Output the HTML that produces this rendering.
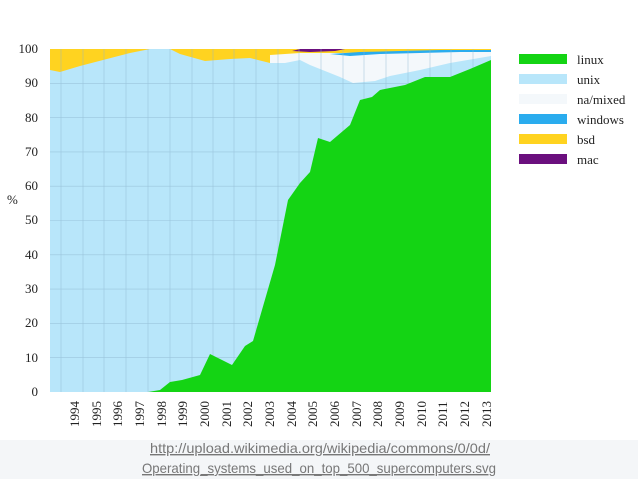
<!DOCTYPE html>
<html><head><meta charset="utf-8"><style>
body{margin:0;width:638px;height:479px;background:#fff;overflow:hidden}
</style></head><body>
<svg width="638" height="479" xmlns="http://www.w3.org/2000/svg" style="position:absolute;left:0;top:0">
<rect x="0" y="440" width="638" height="39" fill="#f4f6f8"/>
<!-- yellow bsd background to top -->
<rect x="50" y="49" width="441" height="343" fill="#ffd320"/>
<!-- na/mixed region -->
<polygon fill="#f4f8fb" points="270,55 300,53 340,53 380,52 420,51 460,50 491,50 491,392 270,392"/>
<!-- windows -->
<polygon fill="#2aacee" points="330,54 360,52 400,51 440,50 491,50 491,52 460,52 420,53 380,54 350,56"/>
<!-- mac -->
<polygon fill="#6b0f7e" points="292,51 300,49 345,49 335,51 310,52"/>
<!-- unix (top of unix) -->
<polygon fill="#b8e6fa" points="50,70 60,72 80,66 130,53 150,49 170,49 180,54 205,61 230,59 250,58 270,63 285,63 300,60 310,65 340,77 353,83 375,81 390,76 420,70 450,63 491,56 491,392 50,392"/>
<!-- grid -->
<g stroke="#8fb8d0" stroke-width="0.6" opacity="0.7">
<line x1="50" x2="491" y1="83.3" y2="83.3"/><line x1="50" x2="491" y1="117.6" y2="117.6"/><line x1="50" x2="491" y1="151.9" y2="151.9"/><line x1="50" x2="491" y1="186.2" y2="186.2"/><line x1="50" x2="491" y1="220.5" y2="220.5"/><line x1="50" x2="491" y1="254.8" y2="254.8"/><line x1="50" x2="491" y1="289.1" y2="289.1"/><line x1="50" x2="491" y1="323.4" y2="323.4"/><line x1="50" x2="491" y1="357.7" y2="357.7"/>
<line x1="61" x2="61" y1="49" y2="392"/><line x1="83" x2="83" y1="49" y2="392"/><line x1="104" x2="104" y1="49" y2="392"/><line x1="126" x2="126" y1="49" y2="392"/><line x1="148" x2="148" y1="49" y2="392"/><line x1="170" x2="170" y1="49" y2="392"/><line x1="192" x2="192" y1="49" y2="392"/><line x1="213" x2="213" y1="49" y2="392"/><line x1="234" x2="234" y1="49" y2="392"/><line x1="256" x2="256" y1="49" y2="392"/><line x1="278" x2="278" y1="49" y2="392"/><line x1="299" x2="299" y1="49" y2="392"/><line x1="321" x2="321" y1="49" y2="392"/><line x1="343" x2="343" y1="49" y2="392"/><line x1="364" x2="364" y1="49" y2="392"/><line x1="386" x2="386" y1="49" y2="392"/><line x1="408" x2="408" y1="49" y2="392"/><line x1="430" x2="430" y1="49" y2="392"/><line x1="451" x2="451" y1="49" y2="392"/><line x1="473" x2="473" y1="49" y2="392"/>
</g>
<!-- linux -->
<polygon fill="#14d414" points="148,392 160,390 170,382 182,380 200,375 210,354 232,365 245,346 253,341 275,265 288,200 300,183 310,172 318,138 330,142 350,125 360,100 372,97 380,90 405,85 425,77 450,77 470,69 491,60 491,392"/>
<g font-family="Liberation Serif, serif" font-size="13" fill="#222" text-anchor="end">
<text x="38" y="53">100</text><text x="38" y="87">90</text><text x="38" y="122">80</text><text x="38" y="156">70</text><text x="38" y="190">60</text><text x="38" y="224">50</text><text x="38" y="259">40</text><text x="38" y="293">30</text><text x="38" y="327">20</text><text x="38" y="362">10</text><text x="38" y="396">0</text>
</g>
<text x="7" y="204" font-family="Liberation Serif, serif" font-size="13" fill="#222">%</text>
<g font-family="Liberation Serif, serif" font-size="13" fill="#222">
<text transform="translate(79,427) rotate(-90)">1994</text><text transform="translate(101,427) rotate(-90)">1995</text><text transform="translate(122,427) rotate(-90)">1996</text><text transform="translate(144,427) rotate(-90)">1997</text><text transform="translate(166,427) rotate(-90)">1998</text><text transform="translate(187,427) rotate(-90)">1999</text><text transform="translate(209,427) rotate(-90)">2000</text><text transform="translate(231,427) rotate(-90)">2001</text><text transform="translate(252,427) rotate(-90)">2002</text><text transform="translate(274,427) rotate(-90)">2003</text><text transform="translate(296,427) rotate(-90)">2004</text><text transform="translate(317,427) rotate(-90)">2005</text><text transform="translate(339,427) rotate(-90)">2006</text><text transform="translate(361,427) rotate(-90)">2007</text><text transform="translate(382,427) rotate(-90)">2008</text><text transform="translate(404,427) rotate(-90)">2009</text><text transform="translate(426,427) rotate(-90)">2010</text><text transform="translate(447,427) rotate(-90)">2011</text><text transform="translate(469,427) rotate(-90)">2012</text><text transform="translate(491,427) rotate(-90)">2013</text>
</g>
<g>
<rect x="519" y="54" width="48" height="10" fill="#14d414"/>
<rect x="519" y="74" width="48" height="10" fill="#b8e6fa"/>
<rect x="519" y="94" width="48" height="10" fill="#f4f8fb"/>
<rect x="519" y="114" width="48" height="10" fill="#2aacee"/>
<rect x="519" y="134" width="48" height="10" fill="#ffd320"/>
<rect x="519" y="154" width="48" height="10" fill="#6b0f7e"/>
</g>
<g font-family="Liberation Serif, serif" font-size="13" fill="#222">
<text x="577" y="64">linux</text><text x="577" y="84">unix</text><text x="577" y="104">na/mixed</text><text x="577" y="124">windows</text><text x="577" y="144">bsd</text><text x="577" y="164">mac</text>
</g>
<g font-family="Liberation Sans Narrow, Liberation Sans, sans-serif" font-size="14" fill="#777" text-decoration="underline">
<text x="150" y="453" textLength="340" lengthAdjust="spacingAndGlyphs">http://upload.wikimedia.org/wikipedia/commons/0/0d/</text>
<text x="142" y="473" textLength="354" lengthAdjust="spacingAndGlyphs">Operating_systems_used_on_top_500_supercomputers.svg</text>
</g>
</svg>
</body></html>
